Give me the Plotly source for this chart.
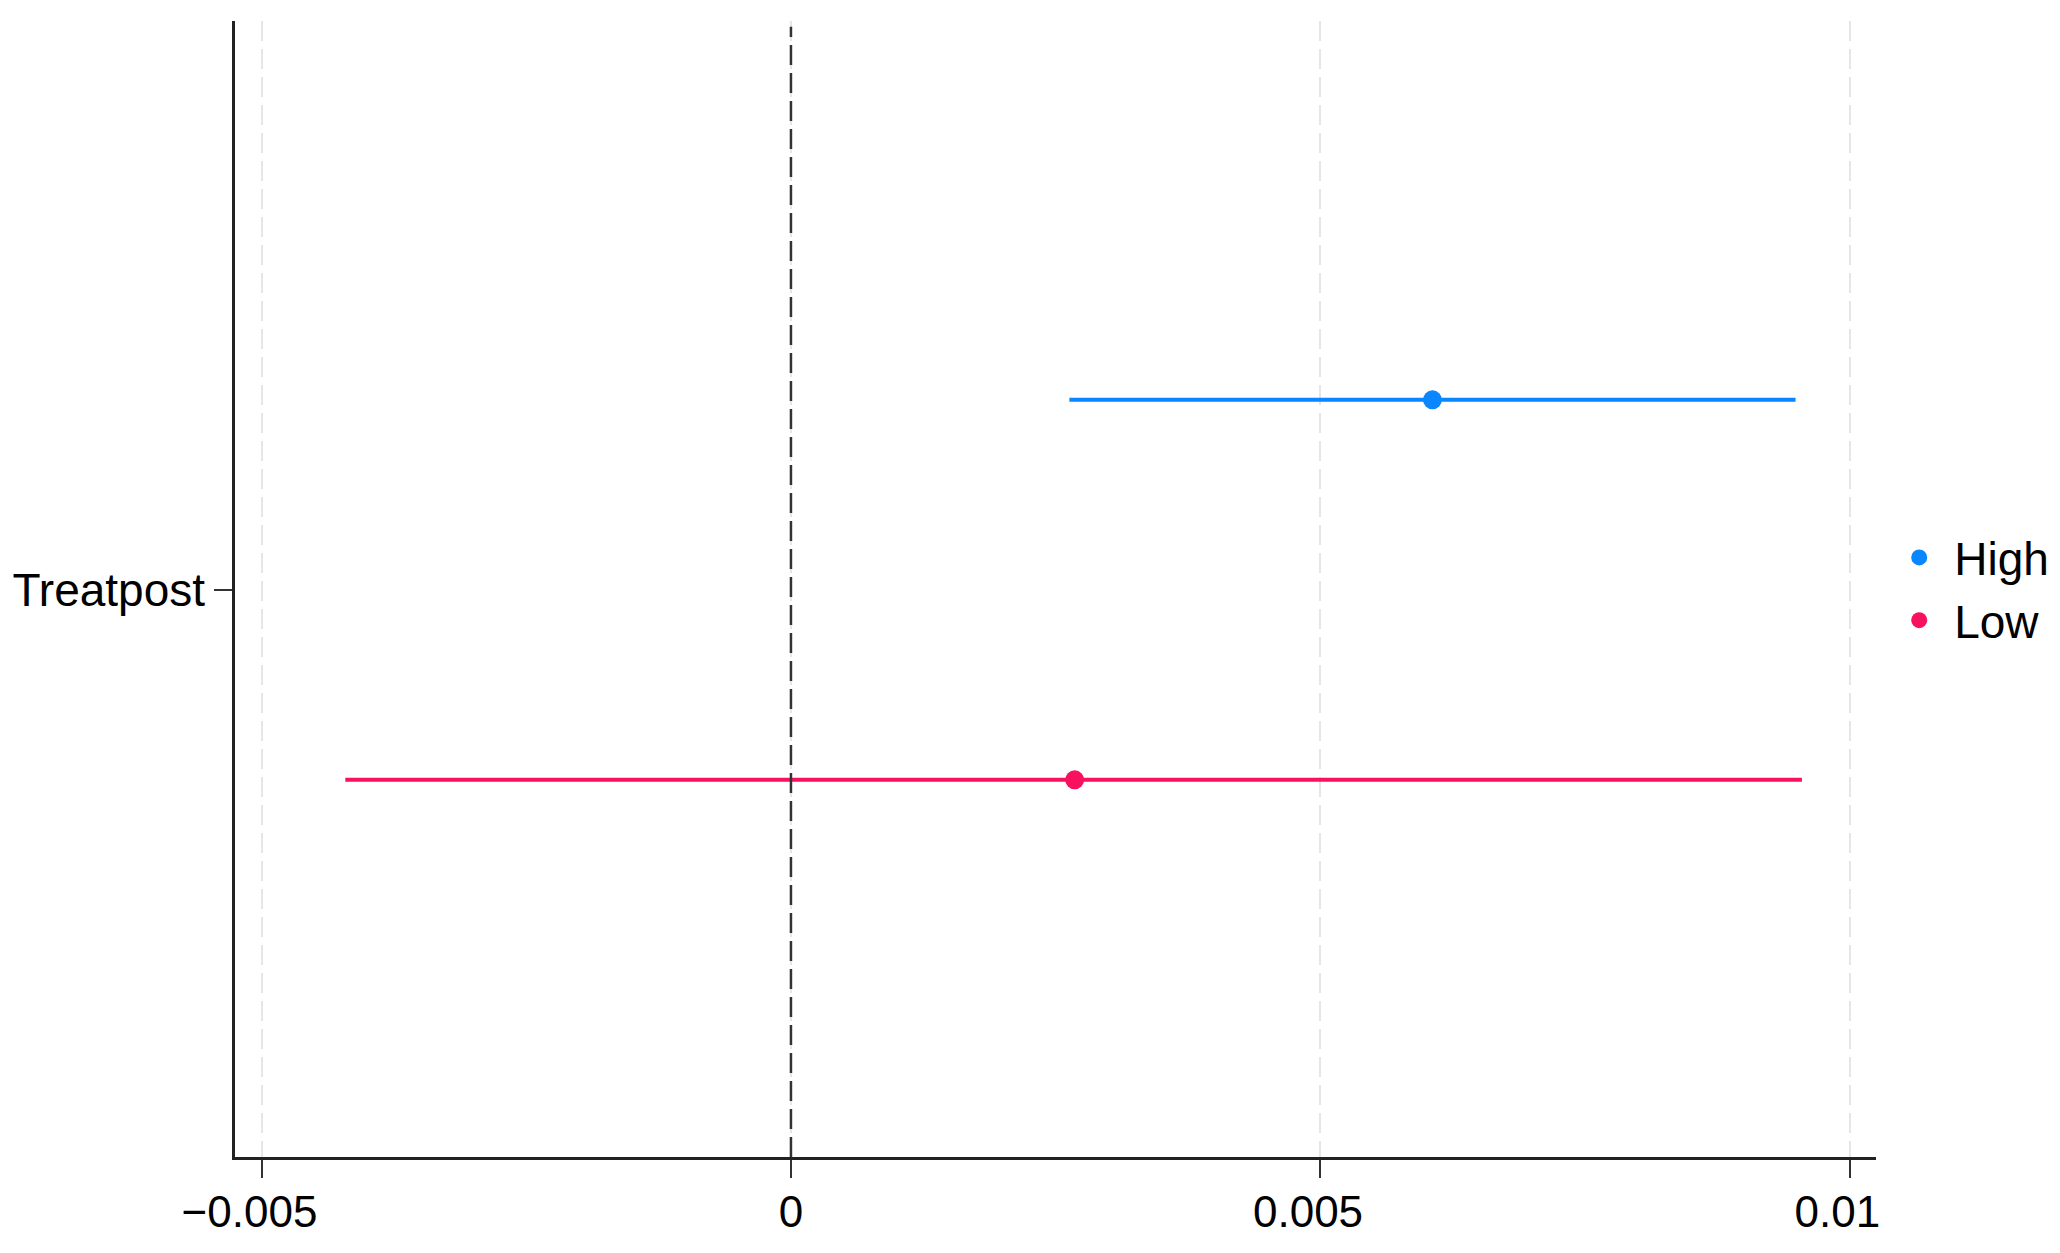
import plotly.graph_objects as go

# Data
groups = ["High", "Low"]
estimates = [0.00606, 0.00268]
ci_low = [0.00263, -0.00421]
ci_high = [0.00949, 0.00955]
coef_label = "Treatpost"
x_ticks = [-0.005, 0, 0.005, 0.01]
x_tick_labels = ["−0.005", "0", "0.005", "0.01"]

colors = {"High": "#0A86FF", "Low": "#F7115F"}
y_offsets = {"High": 0.335, "Low": -0.335}

FONT = "Liberation Sans, Arial, sans-serif"
NBSP = "\u00a0"
# Reference labels sit slightly left of their ticks (except 0): pad with trailing nbsp
label_pad = {"−0.005": 2, "0": 0, "0.005": 2, "0.01": 2}
tick_text = [t + NBSP * label_pad[t] for t in x_tick_labels]

fig = go.Figure()
for g, est, lo, hi in zip(groups, estimates, ci_low, ci_high):
    fig.add_trace(go.Scatter(
        x=[est], y=[y_offsets[g]], mode="markers", name=g,
        marker=dict(color=colors[g], size=19),
        error_x=dict(type="data", symmetric=False, array=[hi - est],
                     arrayminus=[est - lo], color=colors[g], thickness=4, width=0),
    ))

fig.add_shape(type="line", xref="x", yref="paper", x0=0, x1=0, y0=0, y1=0.995,
              line=dict(color="#333333", width=2.5, dash="20px,8px"), layer="above")

fig.update_layout(
    width=2060, height=1253,
    margin=dict(l=227, r=192, t=13, b=104, autoexpand=False),
    paper_bgcolor="white", plot_bgcolor="white",
    font=dict(family=FONT, size=44, color="black"),
    showlegend=True,
    legend=dict(x=1.005, y=0.5, xanchor="left", yanchor="middle",
                font=dict(size=46), itemsizing="trace", itemwidth=60,
                tracegroupgap=0, bgcolor="rgba(0,0,0,0)"),
    xaxis=dict(range=[-0.005252, 0.01025], tickvals=x_ticks, ticktext=tick_text,
               showline=True, linecolor="#222222", linewidth=2.5, automargin=False,
               ticks="outside", ticklen=18, tickwidth=2, tickcolor="#333333",
               showgrid=True, gridcolor="#E6E6E6", gridwidth=2, griddash="20px,8px",
               zeroline=False, tickfont=dict(size=44), ticklabelstandoff=-4),
    yaxis=dict(range=[-1.0, 1.003], tickvals=[0], ticktext=[coef_label],
               showline=True, linecolor="#222222", linewidth=2.5, automargin=False,
               ticks="outside", ticklen=18, tickwidth=2, tickcolor="#333333",
               showgrid=False, zeroline=False, tickfont=dict(size=46)),
)

fig.write_html("out.html")
